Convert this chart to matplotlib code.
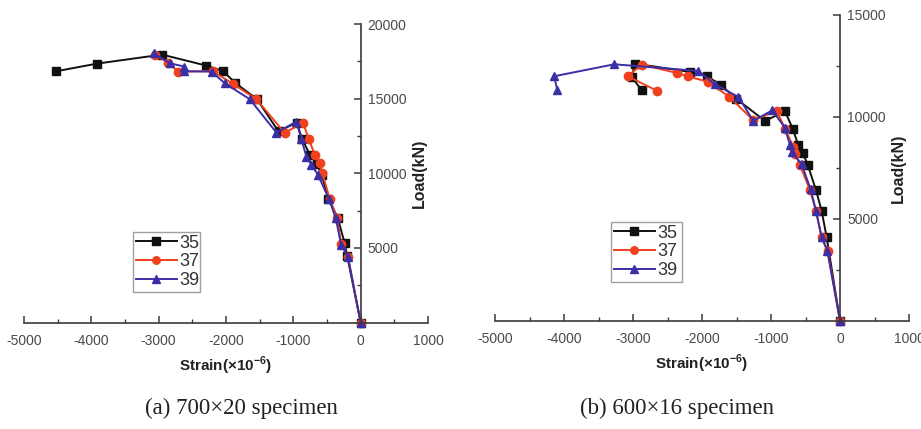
import matplotlib
matplotlib.use("Agg")
import matplotlib.pyplot as plt
from matplotlib.ticker import MultipleLocator, FixedLocator

plt.rcParams['font.family'] = ['Liberation Sans', 'DejaVu Sans']
plt.rcParams['mathtext.fontset'] = 'custom'
plt.rcParams['mathtext.rm'] = 'Liberation Sans'
plt.rcParams['mathtext.bf'] = 'Liberation Sans:bold'

# ---------------- data: panel (a) 700x20 ----------------
a35_strain = [0, -200, -240, -340, -480, -580, -650, -750, -870, -950, -1220, -1540, -1870, -2043, -2290, -2950, -3917, -4525]
a35_load = [0, 4450, 5350, 7000, 8300, 9900, 10600, 11200, 12300, 13400, 12800, 14960, 16080, 16850, 17210, 17950, 17345, 16830]

a37_strain = [0, -190, -290, -350, -460, -570, -610, -680, -770, -856, -1128, -1548, -1900, -2200, -2711, -2860, -3050]
a37_load = [0, 4420, 5250, 7000, 8300, 10000, 10670, 11230, 12280, 13400, 12700, 14960, 16000, 16850, 16810, 17400, 17950]

a39_strain = [0, -190, -290, -370, -470, -633, -731, -806, -880, -954, -1251, -1647, -2018, -2215, -2620, -2620, -2834, -3071]
a39_load = [0, 4420, 5200, 7000, 8260, 9890, 10560, 11120, 12280, 13460, 12723, 14960, 16030, 16810, 16830, 17150, 17370, 18040]

# ---------------- data: panel (b) 600x16 ----------------
b35_strain = [0, -193, -266, -348, -469, -541, -604, -686, -797, -1087, -1507, -1725, -1923, -2174, -2971, -3019, -2874]
b35_load = [0, 4085, 5392, 6405, 7663, 8235, 8611, 9428, 10278, 9804, 10899, 11552, 11993, 12206, 12614, 11961, 11307]

b37_strain = [0, -179, -266, -348, -435, -580, -652, -676, -797, -918, -1256, -1604, -1908, -2208, -2367, -2874, -3077, -2647]
b37_load = [0, 3431, 4085, 5392, 6405, 7631, 8203, 8530, 9428, 10294, 9837, 10980, 11716, 11993, 12157, 12565, 11993, 11275]

b39_strain = [0, -184, -266, -348, -425, -556, -700, -725, -797, -981, -1256, -1473, -1812, -2053, -3271, -4145, -4097]
b39_load = [0, 3431, 4085, 5392, 6438, 7680, 8284, 8611, 9461, 10327, 9804, 10980, 11601, 12255, 12582, 11993, 11340]

series_labels = ['35', '37', '39']
x_ticks = [-5000, -4000, -3000, -2000, -1000, 0, 1000]
a_yticks = [5000, 10000, 15000, 20000]
b_yticks = [5000, 10000, 15000]

colors = ['#111111', '#f0401e', '#3b2fa6']
markers = ['s', 'o', '^']

W, H = 921, 429
fig = plt.figure(figsize=(W / 100, H / 100), dpi=100)
fig.patch.set_facecolor('white')

axis_col = '#3a3a3a'
tick_col = '#4a4a4a'


def make_axes(rect, ymax, yticks, data, legend_rect):
    ax = fig.add_axes(rect)
    ax.set_facecolor('none')
    for (sx, sy), lab, c, m in zip(data, series_labels, colors, markers):
        ax.plot(sx, sy, color=c, marker=m, markersize=6, linewidth=1.4, label=lab,
                clip_on=False)
    ax.set_xlim(-5000, 1000)
    ax.set_ylim(0, ymax)
    ax.spines['top'].set_visible(False)
    ax.spines['left'].set_visible(False)
    ax.spines['right'].set_position(('data', 0))
    ax.spines['right'].set_color(axis_col)
    ax.spines['bottom'].set_color(axis_col)
    ax.spines['right'].set_linewidth(1.2)
    ax.spines['bottom'].set_linewidth(1.2)
    ax.yaxis.tick_right()
    ax.yaxis.set_label_position('right')
    ax.xaxis.set_major_locator(FixedLocator(x_ticks))
    ax.xaxis.set_minor_locator(MultipleLocator(500))
    ax.yaxis.set_major_locator(FixedLocator(yticks))
    ax.yaxis.set_minor_locator(MultipleLocator(2500))
    ax.tick_params(axis='both', which='major', direction='in', length=5, width=1.1,
                   color=axis_col, labelsize=10, labelcolor=tick_col)
    ax.tick_params(axis='both', which='minor', direction='in', length=3, width=1.0,
                   color=axis_col)
    ax.tick_params(axis='x', pad=8)
    ax.tick_params(axis='y', pad=5)
    ax.set_xticklabels([str(t) for t in x_ticks])
    ax.set_yticklabels([str(t) for t in yticks])
    ax.set_xlabel(r'Strain(×10$^{\mathbf{-6}}$)', fontsize=11, fontweight='bold',
                  color='#222222', labelpad=5)
    ax.set_ylabel('Load(kN)', fontsize=11.5, fontweight='bold', color='#222222',
                  rotation=90, labelpad=4)
    leg = ax.legend(loc='lower left', bbox_to_anchor=legend_rect, bbox_transform=fig.transFigure,
                    mode='expand', fontsize=13, frameon=True, fancybox=False,
                    edgecolor='#888888', handlelength=2.3, handletextpad=0.1,
                    labelspacing=0.1, borderpad=0.15, markerscale=0.9, borderaxespad=0)
    leg.get_frame().set_linewidth(1.0)
    for t in leg.get_texts():
        t.set_color('#333333')
    return ax


def frect(x0, y0, x1, y1):
    return [x0 / W, 1 - y1 / H, (x1 - x0) / W, (y1 - y0) / H]


axA = make_axes(frect(24, 24, 428, 322.5), 20000, a_yticks,
                [(a35_strain, a35_load), (a37_strain, a37_load), (a39_strain, a39_load)],
                (133 / W, 1 - 292 / H, 67 / W, 65 / H))
axB = make_axes(frect(495, 15, 909, 320.7), 15000, b_yticks,
                [(b35_strain, b35_load), (b37_strain, b37_load), (b39_strain, b39_load)],
                (611 / W, 1 - 282 / H, 71 / W, 65 / H))

fig.text(241 / W, 1 - 408 / H, '(a) 700×20 specimen', fontsize=16.5,
         family='Liberation Serif', ha='center', va='center', color='#222222')
fig.text(677 / W, 1 - 408 / H, '(b) 600×16 specimen', fontsize=16.5,
         family='Liberation Serif', ha='center', va='center', color='#222222')

fig.savefig('out.png', dpi=100, facecolor='white')
